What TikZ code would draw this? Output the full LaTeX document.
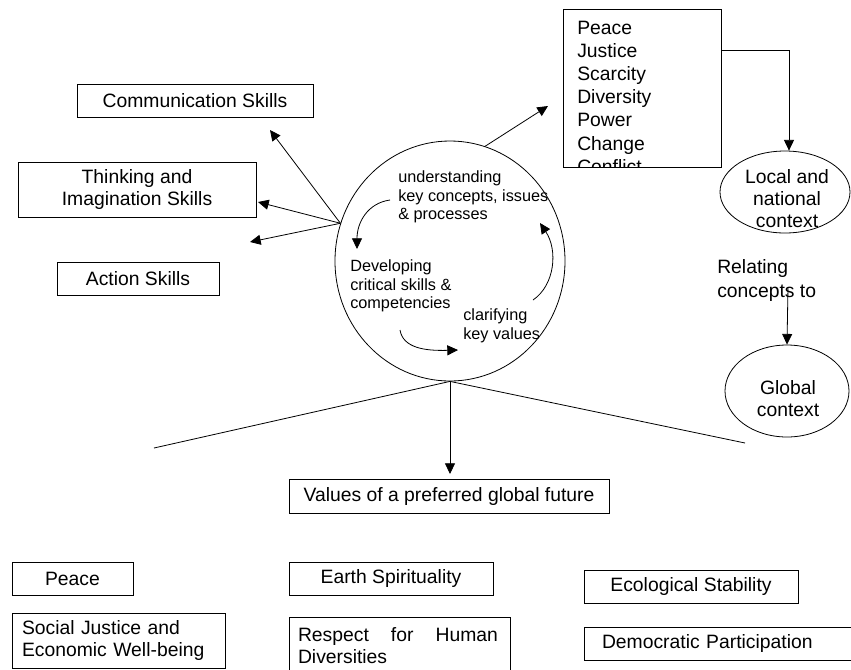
\documentclass[tikz,border=0pt]{standalone}
\usepackage{fontspec}
\setmainfont{Liberation Sans}
\usetikzlibrary{arrows.meta,shapes.geometric}
\newcommand\dmain{\fontsize{14.5pt}{16.5pt}\selectfont}
\newcommand\dlist{\fontsize{14.5pt}{17.4pt}\selectfont}
\newcommand\dsmall{\fontsize{12.2pt}{13.9pt}\selectfont}
\begin{document}
\begin{tikzpicture}[x=0.75pt,y=-0.75pt,
  ln/.style={line width=0.6pt},
  arr/.style={ln,-{Triangle[length=8pt,width=7.5pt]}},
  bx/.style={draw,ln,inner sep=0pt,font=\dmain,align=center},
  lbx/.style={draw,ln,inner ysep=0pt,font=\dmain,align=left},
  ov/.style={draw,ln,ellipse,inner sep=0pt},
  txt/.style={inner sep=0pt,font=\dmain,align=center},
  small/.style={inner sep=0pt,font=\dsmall,align=left}]
\fill[white] (0,0) rectangle (851,669);
\useasboundingbox (0,0) rectangle (851,669);

% skill boxes
\node[bx,minimum width=177pt,minimum height=24.75pt] (comm) at (195,100.5) {Communication Skills};
\node[bx,minimum width=178.5pt,minimum height=41.25pt] (think) at (137,189.5) {Thinking and\\Imagination Skills};
\node[bx,minimum width=121.5pt,minimum height=24.75pt] (action) at (138,278.5) {Action Skills};

% central cycle
\node[ov,minimum width=172.5pt,minimum height=180pt] (cyc) at (450,261) {};
\node[small,anchor=west] (t1) at (398,197) {understanding\\key concepts, issues\\\& processes};
\node[small,anchor=west] (t2) at (350,286) {Developing\\critical skills \&\\competencies};
\node[small,anchor=west] (t3) at (463,326) {clarifying\\key values};

\coordinate (a1s) at (390,200); \coordinate (a1e) at (357,249);
\coordinate (a2s) at (400,330); \coordinate (a2e) at (458,350);
\coordinate (a3s) at (533,300); \coordinate (a3e) at (540,223);
\draw[arr] (a1s) .. controls (368,203) and (357,222) .. (a1e);
\draw[arr] (a2s) .. controls (403,348) and (425,351) .. (a2e);
\draw[arr] (a3s) .. controls (555,285) and (558,250) .. (a3e);

% arrows to the skills
\coordinate (e1) at (270,130);
\coordinate (e2) at (258,202);
\coordinate (e3) at (250,242);
\draw[arr] (cyc.161) -- (e1);
\draw[arr] (cyc.161) -- (e2);
\draw[arr] (cyc.161) -- (e3);

% concepts box
\node[draw,ln,inner sep=0pt,minimum width=118.5pt,minimum height=118.5pt] (concepts) at (642,88) {};
\begin{scope}
\clip (563,9) rectangle (721,167);
\node[anchor=north west,inner sep=0pt,font=\dlist,align=left] (list) at (577,20.5)
  {Peace\\Justice\\Scarcity\\Diversity\\Power\\Change\\Conflict};
\end{scope}
\coordinate (e4) at (548,106);
\draw[arr] (cyc.73) -- (e4);

% contexts
\node[ov,minimum width=97.5pt,minimum height=61.5pt] (local) at (785,192) {};
\node[txt] (localtxt) at (787,199) {\fontsize{14.5pt}{16.1pt}\selectfont Local and\\national\\context};
\draw[arr] ([yshift=28.5pt]concepts.east) -| ([xshift=3pt]local.north);

\node[inner sep=0pt,font=\fontsize{14.5pt}{18pt}\selectfont,align=left,anchor=west] (rel) at (717,280) {Relating\\concepts to};
\node[ov,minimum width=93pt,minimum height=69pt] (global) at (787,391) {};
\node[txt] (globaltxt) at (788,399) {Global\\context};
\coordinate (relstart) at (788,287);
\draw[arr] (relstart) -- (global.north);

% bottom part
\coordinate (lft) at (154,448);
\coordinate (rgt) at (745,443);
\draw[ln] (lft) -- (cyc.south) -- (rgt);
\node[bx,minimum width=240pt,minimum height=25.5pt] (values) at (449,496) {Values of a preferred global future};
\coordinate (e5) at (450,474);
\draw[arr] (cyc.south) -- (e5);

% values
\node[bx,minimum width=90.75pt,minimum height=24.75pt] (peace) at (72.5,578.5) {Peace};
\node[bx,minimum width=153pt,minimum height=24.75pt] (earth) at (391,578.5) {Earth Spirituality};
\node[bx,minimum width=160.5pt,minimum height=24.75pt] (eco) at (691,586.5) {Ecological Stability};
\node[lbx,inner xsep=7.5pt,text width=144.75pt,minimum height=41.25pt] (social) at (118.5,640.5) {Social Justice and\\Economic Well-being};
\node[lbx,inner xsep=6.75pt,text width=152.25pt,minimum height=43.5pt] (respect) at (399.5,646) {\hbox to 150pt{Respect\hfill for\hfill Human}\\Diversities};
\node[lbx,inner xsep=13.5pt,text width=176.25pt,minimum height=24.75pt] (democ) at (719.5,643.5) {Democratic Participation};
\end{tikzpicture}
\end{document}
